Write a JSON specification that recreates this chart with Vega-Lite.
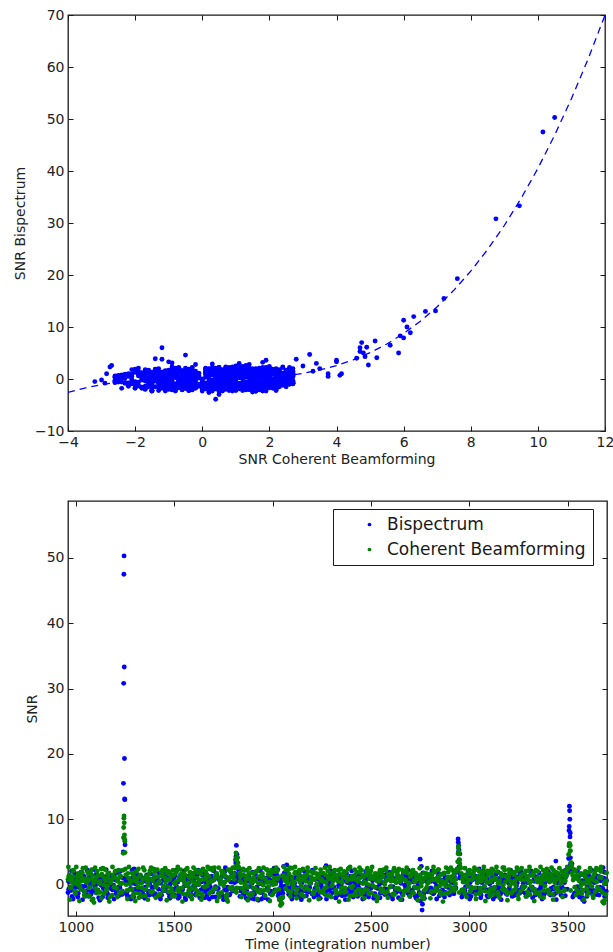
{
"$schema":"https://vega.github.io/schema/vega-lite/v6.json",
"background":"white",
"padding":{"left":12,"top":7,"right":4,"bottom":0},
"config":{
 "font":"DejaVu Sans",
 "view":{"stroke":"#1a1a1a","strokeWidth":1.3},
 "axis":{"domain":false,"grid":false,"tickSize":-5,"tickColor":"#1a1a1a","tickWidth":1,"labelFontSize":14,"titleFontSize":14,"titleFontWeight":"normal","labelColor":"#222","titleColor":"#222","labelFont":"DejaVu Sans","titleFont":"DejaVu Sans","labelPadding":9,"labelFlush":false,"labelOverlap":false},
 "axisX":{"titlePadding":3},
 "axisY":{"titlePadding":7},
 "legend":{"labelFont":"DejaVu Sans"}
},
"datasets":{
"d":[
{"t":960,"c":0.8,"b":-1.2},{"t":968,"c":1.5,"b":0.4},{"t":976,"c":-0.3,"b":-0.9},{"t":984,"c":2.1,"b":1.1},{"t":992,"c":0.2,"b":0.6},{"t":1000,"c":-1.1,"b":-1.5},{"t":1008,"c":1.2,"b":0.2},{"t":1016,"c":0.5,"b":-0.4},{"t":1024,"c":-0.7,"b":1.0},{"t":1032,"c":1.9,"b":-0.7},
{"t":1040,"c":0.9,"b":1.3},{"t":1048,"c":-1.8,"b":-0.2},{"t":1056,"c":0.3,"b":-1.6},{"t":1064,"c":1.6,"b":0.8},{"t":1072,"c":-0.4,"b":0.1},{"t":1080,"c":2.3,"b":-1.1},{"t":1088,"c":-2.2,"b":0.5},{"t":1092,"c":-2.75,"b":2.3},{"t":1096,"c":0.7,"b":-0.3},{"t":1104,"c":1.1,"b":1.6},
{"t":1112,"c":-0.9,"b":-0.8},{"t":1120,"c":0.1,"b":0.9},{"t":1128,"c":2.4,"b":-0.1},{"t":1136,"c":1.3,"b":-1.9},{"t":1144,"c":-1.4,"b":0.3},{"t":1152,"c":0.6,"b":1.2},{"t":1160,"c":-0.2,"b":-1.3},{"t":1168,"c":1.8,"b":0.6},{"t":1176,"c":0.4,"b":-0.6},{"t":1184,"c":-1.6,"b":1.4},
{"t":1192,"c":1.0,"b":-0.1},{"t":1200,"c":2.0,"b":0.7},{"t":1208,"c":-0.6,"b":-1.0},{"t":1216,"c":0.9,"b":1.8},{"t":1224,"c":1.4,"b":-0.5},{"t":1232,"c":-1.0,"b":0.2},{"t":1240,"c":2.2,"b":1.0},
{"t":1241,"c":4.8,"b":5.0},{"t":1242,"c":7.2,"b":15.5},{"t":1243,"c":8.75,"b":30.8},{"t":1244,"c":10.15,"b":47.5},{"t":1245,"c":10.5,"b":50.3},{"t":1246,"c":9.45,"b":33.3},{"t":1247,"c":7.6,"b":19.3},{"t":1248,"c":6.95,"b":13.1},{"t":1249,"c":6.65,"b":13.0},{"t":1250,"c":4.9,"b":6.1},
{"t":1256,"c":0.0,"b":-1.4},{"t":1264,"c":1.7,"b":-2.0},{"t":1272,"c":-0.8,"b":0.4},{"t":1280,"c":0.5,"b":-2.2},{"t":1288,"c":-1.9,"b":1.1},{"t":1296,"c":1.2,"b":2.4},{"t":1304,"c":-1.3,"b":-0.7},{"t":1312,"c":0.3,"b":0.9},{"t":1320,"c":-2.0,"b":-1.2},{"t":1328,"c":1.5,"b":0.3},
{"t":1336,"c":-0.5,"b":-1.8},{"t":1344,"c":0.8,"b":0.5},{"t":1352,"c":-1.7,"b":-0.4},{"t":1360,"c":1.0,"b":1.5},{"t":1368,"c":-0.1,"b":-1.1},{"t":1376,"c":2.1,"b":0.0},{"t":1384,"c":-1.2,"b":0.8},{"t":1392,"c":0.6,"b":-1.5},{"t":1400,"c":1.9,"b":1.2},{"t":1408,"c":-0.4,"b":-0.2},
{"t":1416,"c":0.2,"b":0.7},{"t":1424,"c":-1.5,"b":-1.7},{"t":1432,"c":1.3,"b":0.4},{"t":1440,"c":2.2,"b":-0.9},{"t":1448,"c":-0.9,"b":1.9},{"t":1456,"c":0.4,"b":-0.5},{"t":1464,"c":1.7,"b":1.0},{"t":1472,"c":-1.1,"b":-1.3},{"t":1480,"c":0.9,"b":0.1},{"t":1488,"c":-1.8,"b":0.6},
{"t":1496,"c":1.4,"b":-1.0},{"t":1504,"c":0.1,"b":1.4},{"t":1512,"c":2.0,"b":-0.3},{"t":1520,"c":-0.6,"b":-2.1},{"t":1528,"c":0.7,"b":0.8},{"t":1536,"c":1.6,"b":-0.6},{"t":1544,"c":-1.4,"b":1.1},{"t":1552,"c":0.3,"b":-0.2},{"t":1560,"c":2.3,"b":0.9},{"t":1568,"c":-0.2,"b":-1.4},
{"t":1576,"c":1.1,"b":0.3},{"t":1584,"c":-1.6,"b":1.7},{"t":1592,"c":0.5,"b":-0.8},{"t":1600,"c":1.8,"b":0.5},{"t":1608,"c":-0.7,"b":-1.6},{"t":1616,"c":1.0,"b":1.2},{"t":1624,"c":0.0,"b":0.0},{"t":1632,"c":2.1,"b":-1.2},{"t":1640,"c":-1.3,"b":0.6},{"t":1648,"c":0.8,"b":-0.4},
{"t":1656,"c":-0.3,"b":-2.0},{"t":1664,"c":1.5,"b":1.6},{"t":1672,"c":0.4,"b":-0.7},{"t":1680,"c":2.4,"b":0.2},{"t":1688,"c":-1.0,"b":1.3},{"t":1696,"c":0.6,"b":-1.1},{"t":1704,"c":2.6,"b":0.8},{"t":1712,"c":-0.5,"b":-0.5},{"t":1720,"c":1.2,"b":1.0},{"t":1728,"c":-1.9,"b":-1.3},
{"t":1736,"c":0.9,"b":0.4},{"t":1744,"c":1.6,"b":2.0},{"t":1752,"c":-0.2,"b":-1.8},{"t":1760,"c":1.3,"b":2.6},{"t":1768,"c":-1.5,"b":-2.3},{"t":1772,"c":-2.6,"b":-0.4},{"t":1776,"c":0.7,"b":0.7},{"t":1784,"c":2.0,"b":-0.6},{"t":1792,"c":-0.8,"b":1.2},{"t":1800,"c":1.4,"b":-0.9},{"t":1808,"c":2.5,"b":1.7},
{"t":1812,"c":2.8,"b":3.8},{"t":1813,"c":-1.0,"b":3.3},{"t":1814,"c":4.85,"b":4.3},{"t":1815,"c":4.0,"b":3.6},{"t":1816,"c":-1.2,"b":6.0},{"t":1817,"c":4.0,"b":3.3},{"t":1818,"c":3.75,"b":0.5},{"t":1819,"c":-0.5,"b":4.6},{"t":1820,"c":4.15,"b":1.0},{"t":1822,"c":4.1,"b":0.7},{"t":1824,"c":3.3,"b":1.5},
{"t":1832,"c":1.8,"b":2.1},{"t":1840,"c":0.3,"b":-1.0},{"t":1848,"c":2.2,"b":0.5},{"t":1856,"c":-1.1,"b":-1.5},{"t":1864,"c":0.8,"b":0.9},{"t":1872,"c":-0.4,"b":-0.3},{"t":1880,"c":1.7,"b":1.3},{"t":1888,"c":-1.7,"b":-1.9},{"t":1896,"c":0.5,"b":0.2},{"t":1904,"c":1.1,"b":-1.2},
{"t":1912,"c":-0.6,"b":1.6},{"t":1920,"c":2.0,"b":-0.4},{"t":1928,"c":0.2,"b":-2.4},{"t":1936,"c":-1.2,"b":0.8},{"t":1944,"c":1.5,"b":-2.2},{"t":1952,"c":-0.1,"b":0.3},{"t":1960,"c":0.9,"b":-1.7},{"t":1968,"c":2.3,"b":1.0},{"t":1976,"c":-0.9,"b":-0.6},{"t":1984,"c":0.4,"b":1.9},
{"t":1992,"c":1.8,"b":-1.0},{"t":2000,"c":-1.5,"b":0.4},{"t":2008,"c":1.0,"b":2.5},{"t":2016,"c":0.1,"b":-0.9},{"t":2024,"c":2.1,"b":1.4},{"t":2032,"c":-0.7,"b":-1.4},{"t":2040,"c":-3.2,"b":-0.5},{"t":2044,"c":-3.0,"b":-0.2},{"t":2048,"c":-2.9,"b":-0.8},{"t":2056,"c":1.4,"b":2.8},{"t":2064,"c":0.6,"b":-0.2},
{"t":2072,"c":1.1,"b":3.0},{"t":2080,"c":-1.0,"b":0.7},{"t":2088,"c":2.6,"b":-0.5},{"t":2096,"c":0.3,"b":1.1},{"t":2104,"c":-0.5,"b":-1.2},{"t":2112,"c":1.7,"b":0.2},{"t":2120,"c":-1.3,"b":-1.6},{"t":2128,"c":0.8,"b":1.5},{"t":2136,"c":2.2,"b":-0.8},{"t":2144,"c":-0.2,"b":0.5},
{"t":2152,"c":1.2,"b":-1.9},{"t":2160,"c":-1.8,"b":1.0},{"t":2168,"c":0.5,"b":-0.3},{"t":2176,"c":1.6,"b":1.2},{"t":2184,"c":-0.8,"b":-1.1},{"t":2192,"c":0.2,"b":0.6},{"t":2200,"c":2.0,"b":-1.4},{"t":2208,"c":-1.4,"b":1.8},{"t":2216,"c":0.9,"b":-0.6},{"t":2224,"c":-0.3,"b":0.0},
{"t":2232,"c":1.3,"b":-1.7},{"t":2240,"c":-1.1,"b":0.9},{"t":2248,"c":0.6,"b":-0.2},{"t":2256,"c":1.8,"b":1.4},{"t":2264,"c":-0.6,"b":-1.3},{"t":2272,"c":0.3,"b":2.9},{"t":2280,"c":2.1,"b":-0.9},{"t":2288,"c":-1.6,"b":0.4},{"t":2296,"c":1.0,"b":-1.5},{"t":2304,"c":-0.1,"b":1.1},
{"t":2312,"c":1.5,"b":-0.4},{"t":2320,"c":-0.9,"b":-2.0},{"t":2328,"c":0.7,"b":0.8},{"t":2336,"c":2.2,"b":-0.1},{"t":2344,"c":-1.2,"b":1.3},{"t":2352,"c":0.4,"b":-1.0},{"t":2360,"c":1.7,"b":0.5},{"t":2368,"c":-0.5,"b":-1.6},{"t":2376,"c":1.1,"b":1.7},{"t":2384,"c":2.4,"b":-0.7},
{"t":2392,"c":-1.7,"b":0.2},{"t":2400,"c":0.8,"b":-1.2},{"t":2408,"c":-0.2,"b":0.9},{"t":2416,"c":1.4,"b":-0.5},{"t":2424,"c":-1.0,"b":1.5},{"t":2432,"c":0.5,"b":-1.8},{"t":2440,"c":1.9,"b":0.3},{"t":2448,"c":-1.5,"b":-0.8},{"t":2456,"c":0.2,"b":1.2},{"t":2464,"c":1.2,"b":-1.3},
{"t":2472,"c":-0.7,"b":0.6},{"t":2480,"c":2.0,"b":-0.2},{"t":2488,"c":0.0,"b":-1.9},{"t":2496,"c":1.6,"b":1.0},{"t":2504,"c":-1.3,"b":-0.4},{"t":2512,"c":0.9,"b":0.8},{"t":2520,"c":-0.4,"b":-1.4},{"t":2528,"c":1.3,"b":1.6},{"t":2536,"c":-1.9,"b":-0.6},{"t":2544,"c":0.6,"b":0.1},
{"t":2552,"c":1.8,"b":-1.1},{"t":2560,"c":-0.8,"b":1.3},{"t":2568,"c":0.3,"b":-0.7},{"t":2576,"c":2.2,"b":0.6},{"t":2584,"c":-1.1,"b":-1.5},{"t":2592,"c":1.0,"b":1.9},{"t":2600,"c":-0.3,"b":-0.3},{"t":2608,"c":1.5,"b":-1.6},{"t":2616,"c":-1.4,"b":0.9},{"t":2624,"c":0.7,"b":-0.8},
{"t":2632,"c":1.9,"b":1.1},{"t":2640,"c":-0.6,"b":-2.0},{"t":2648,"c":0.4,"b":0.4},{"t":2656,"c":1.2,"b":-1.2},{"t":2664,"c":-1.6,"b":1.6},{"t":2672,"c":0.8,"b":-0.1},{"t":2680,"c":2.1,"b":1.9},{"t":2688,"c":-0.9,"b":-1.3},{"t":2696,"c":0.2,"b":0.7},{"t":2704,"c":1.4,"b":-0.9},
{"t":2712,"c":-1.2,"b":1.2},{"t":2720,"c":0.6,"b":-0.5},{"t":2728,"c":1.7,"b":1.4},{"t":2736,"c":-0.5,"b":-1.7},{"t":2744,"c":0.9,"b":0.2},{"t":2750,"c":-1.4,"b":3.9},{"t":2752,"c":1.5,"b":-2.5},{"t":2756,"c":-0.2,"b":2.8},{"t":2760,"c":0.4,"b":-3.9},{"t":2762,"c":0.5,"b":-3.0},{"t":2768,"c":-2.2,"b":-1.4},
{"t":2776,"c":1.1,"b":0.9},{"t":2784,"c":-0.4,"b":-0.6},{"t":2792,"c":0.3,"b":1.3},{"t":2800,"c":1.6,"b":-1.0},{"t":2808,"c":-1.0,"b":0.5},{"t":2816,"c":0.7,"b":-1.4},{"t":2824,"c":1.9,"b":0.8},{"t":2832,"c":-0.7,"b":-0.2},{"t":2840,"c":0.5,"b":1.1},{"t":2848,"c":1.3,"b":-1.7},
{"t":2856,"c":-1.5,"b":0.3},{"t":2864,"c":0.1,"b":-0.8},{"t":2872,"c":1.8,"b":1.5},{"t":2880,"c":-0.3,"b":-1.2},{"t":2888,"c":1.0,"b":0.6},{"t":2896,"c":2.3,"b":-0.4},{"t":2904,"c":-1.1,"b":1.0},{"t":2912,"c":0.6,"b":-1.3},{"t":2920,"c":1.4,"b":0.2},{"t":2928,"c":-0.6,"b":-0.7},{"t":2936,"c":2.0,"b":1.9},
{"t":2941,"c":3.5,"b":2.0},{"t":2943,"c":4.75,"b":7.0},{"t":2944,"c":5.6,"b":6.5},{"t":2945,"c":5.85,"b":5.0},{"t":2946,"c":4.7,"b":6.0},{"t":2947,"c":4.95,"b":2.7},{"t":2948,"c":4.7,"b":5.3},{"t":2949,"c":-1.2,"b":3.8},{"t":2950,"c":3.75,"b":1.0},{"t":2952,"c":3.2,"b":4.7},
{"t":2960,"c":1.7,"b":1.2},{"t":2968,"c":0.4,"b":-0.9},{"t":2976,"c":-1.3,"b":0.4},{"t":2984,"c":1.1,"b":-1.5},{"t":2992,"c":-0.2,"b":1.0},{"t":3000,"c":1.6,"b":-0.3},{"t":3008,"c":-0.8,"b":-1.8},{"t":3016,"c":0.9,"b":0.7},{"t":3024,"c":2.1,"b":-1.0},{"t":3032,"c":-1.5,"b":1.3},
{"t":3040,"c":0.3,"b":-0.5},{"t":3048,"c":1.3,"b":2.2},{"t":3056,"c":-0.5,"b":-1.4},{"t":3064,"c":0.7,"b":0.3},{"t":3072,"c":1.9,"b":2.1},{"t":3080,"c":-1.0,"b":-0.8},{"t":3088,"c":0.5,"b":1.2},{"t":3096,"c":1.5,"b":-1.9},{"t":3104,"c":-1.8,"b":0.1},{"t":3112,"c":0.8,"b":-0.6},
{"t":3120,"c":2.2,"b":1.0},{"t":3128,"c":-0.4,"b":-1.1},{"t":3136,"c":1.0,"b":1.6},{"t":3144,"c":-1.2,"b":-0.3},{"t":3152,"c":0.2,"b":0.8},{"t":3160,"c":1.7,"b":-1.4},{"t":3168,"c":-0.7,"b":0.5},{"t":3176,"c":2.6,"b":-0.7},{"t":3184,"c":0.4,"b":1.4},{"t":3192,"c":-1.4,"b":-1.5},
{"t":3200,"c":1.2,"b":0.2},{"t":3208,"c":-0.1,"b":-1.0},{"t":3216,"c":1.8,"b":1.1},{"t":3224,"c":-0.9,"b":-1.7},{"t":3232,"c":0.6,"b":0.6},{"t":3240,"c":2.0,"b":-0.2},{"t":3248,"c":-1.6,"b":1.2},{"t":3256,"c":0.9,"b":-1.3},{"t":3264,"c":1.5,"b":2.0},{"t":3272,"c":-0.3,"b":-0.6},
{"t":3280,"c":0.7,"b":0.9},{"t":3288,"c":2.1,"b":-1.8},{"t":3296,"c":-1.1,"b":0.3},{"t":3304,"c":0.3,"b":-1.1},{"t":3312,"c":1.4,"b":1.5},{"t":3320,"c":-0.6,"b":-0.4},{"t":3328,"c":1.9,"b":0.7},{"t":3336,"c":-1.3,"b":-1.6},{"t":3344,"c":0.5,"b":1.0},{"t":3352,"c":1.1,"b":-0.8},
{"t":3360,"c":-1.8,"b":0.4},{"t":3368,"c":0.8,"b":-1.4},{"t":3376,"c":2.2,"b":1.3},{"t":3384,"c":-0.2,"b":-0.1},{"t":3392,"c":1.3,"b":1.8},{"t":3400,"c":-0.9,"b":-1.2},{"t":3408,"c":0.4,"b":0.6},{"t":3416,"c":1.6,"b":-0.6},{"t":3424,"c":-1.5,"b":1.1},{"t":3432,"c":0.9,"b":-1.5},
{"t":3440,"c":1.9,"b":3.6},{"t":3448,"c":-0.5,"b":0.2},{"t":3456,"c":1.2,"b":-1.0},{"t":3464,"c":0.1,"b":1.2},{"t":3472,"c":2.0,"b":-0.4},{"t":3480,"c":-1.0,"b":0.9},{"t":3488,"c":0.6,"b":-1.7},{"t":3496,"c":1.5,"b":1.6},{"t":3500,"c":2.4,"b":2.2},
{"t":3505,"c":4.6,"b":4.0},{"t":3507,"c":5.9,"b":8.3},{"t":3508,"c":6.2,"b":8.9},{"t":3509,"c":6.3,"b":12.0},{"t":3510,"c":6.0,"b":11.3},{"t":3511,"c":6.1,"b":10.0},{"t":3512,"c":5.15,"b":7.3},{"t":3513,"c":6.0,"b":7.9},{"t":3514,"c":5.2,"b":4.1},{"t":3515,"c":-0.9,"b":3.1},{"t":3516,"c":3.4,"b":3.0},{"t":3518,"c":3.0,"b":2.5},
{"t":3522,"c":1.8,"b":3.2},{"t":3528,"c":0.7,"b":2.3},{"t":3536,"c":-0.4,"b":-1.3},{"t":3544,"c":1.3,"b":2.0},{"t":3552,"c":-1.2,"b":-0.6},{"t":3560,"c":0.5,"b":-1.9},{"t":3568,"c":1.7,"b":0.4},{"t":3576,"c":-0.8,"b":-2.3},{"t":3584,"c":0.2,"b":-2.6},{"t":3592,"c":1.1,"b":1.0},
{"t":3600,"c":-1.6,"b":-0.3},{"t":3608,"c":0.8,"b":1.3},{"t":3616,"c":2.0,"b":-1.2},{"t":3624,"c":-0.3,"b":0.5},{"t":3632,"c":1.4,"b":-0.9},{"t":3640,"c":-1.1,"b":1.4},{"t":3648,"c":0.4,"b":-1.5},{"t":3656,"c":2.3,"b":0.7},{"t":3664,"c":-0.7,"b":-0.4},{"t":3672,"c":1.0,"b":1.1},
{"t":3680,"c":-2.7,"b":2.6},{"t":3684,"c":-2.85,"b":1.0},{"t":3688,"c":-2.4,"b":-1.8},{"t":3696,"c":0.6,"b":-1.0},
{"t":964,"c":1.3,"b":-0.7},{"t":972,"c":-0.5,"b":0.9},{"t":980,"c":0.9,"b":-1.8},{"t":988,"c":2.2,"b":0.3},{"t":996,"c":-1.4,"b":-0.4},{"t":1004,"c":0.6,"b":1.1},{"t":1012,"c":1.7,"b":-1.3},{"t":1020,"c":-0.2,"b":0.5},{"t":1028,"c":1.0,"b":-0.2},{"t":1036,"c":2.5,"b":1.4},
{"t":1044,"c":-1.0,"b":-1.0},{"t":1052,"c":0.4,"b":0.3},{"t":1060,"c":1.9,"b":-0.9},{"t":1068,"c":-1.7,"b":1.2},{"t":1076,"c":0.8,"b":-1.5},{"t":1084,"c":1.4,"b":0.6},{"t":1100,"c":-0.6,"b":-1.2},{"t":1108,"c":2.0,"b":0.1},{"t":1116,"c":0.3,"b":-2.0},{"t":1124,"c":-1.2,"b":0.8},
{"t":1132,"c":1.6,"b":1.3},{"t":1140,"c":0.0,"b":-0.6},{"t":1148,"c":2.3,"b":-1.1},{"t":1156,"c":-0.8,"b":0.4},{"t":1164,"c":1.1,"b":-1.7},{"t":1172,"c":-1.9,"b":1.0},{"t":1180,"c":0.7,"b":0.0},{"t":1188,"c":1.5,"b":-0.8},{"t":1196,"c":-0.3,"b":1.5},{"t":1204,"c":2.1,"b":-1.4},
{"t":1212,"c":0.5,"b":0.7},{"t":1220,"c":-1.3,"b":-0.3},{"t":1228,"c":1.2,"b":1.2},{"t":1236,"c":0.2,"b":-1.0},{"t":1252,"c":2.4,"b":0.4},{"t":1260,"c":-0.9,"b":-1.6},{"t":1268,"c":1.0,"b":0.9},{"t":1276,"c":0.1,"b":-1.9},{"t":1284,"c":1.8,"b":0.2},{"t":1292,"c":-1.5,"b":-0.9},
{"t":1300,"c":0.6,"b":1.4},{"t":1308,"c":2.0,"b":-1.2},{"t":1316,"c":-0.4,"b":0.6},{"t":1324,"c":1.3,"b":-0.5},{"t":1332,"c":-1.8,"b":1.2},{"t":1340,"c":0.9,"b":-1.3},{"t":1348,"c":2.2,"b":0.9},{"t":1356,"c":-0.7,"b":-1.7},{"t":1364,"c":0.4,"b":0.3},{"t":1372,"c":1.6,"b":-1.0},
{"t":1380,"c":-1.1,"b":1.6},{"t":1388,"c":0.8,"b":-0.4},{"t":1396,"c":2.4,"b":0.5},{"t":1404,"c":-0.1,"b":-1.4},{"t":1412,"c":1.2,"b":1.0},{"t":1420,"c":-1.6,"b":-0.7},{"t":1428,"c":0.5,"b":0.2},{"t":1436,"c":1.9,"b":-1.6},{"t":1444,"c":-0.8,"b":0.7},{"t":1452,"c":1.0,"b":-0.9},
{"t":1460,"c":2.1,"b":1.3},{"t":1468,"c":-0.3,"b":-0.2},{"t":1476,"c":0.7,"b":-1.8},{"t":1484,"c":1.5,"b":0.8},{"t":1492,"c":-1.2,"b":-1.1},{"t":1500,"c":0.2,"b":1.0},{"t":1508,"c":1.8,"b":-0.7},{"t":1516,"c":-0.9,"b":0.4},{"t":1524,"c":1.1,"b":-1.4},{"t":1532,"c":2.3,"b":1.5},
{"t":1540,"c":-0.5,"b":-0.9},{"t":1548,"c":0.8,"b":0.6},{"t":1556,"c":1.4,"b":-2.0},{"t":1564,"c":-1.5,"b":0.1},{"t":1572,"c":0.3,"b":1.3},{"t":1580,"c":1.9,"b":-0.5},{"t":1588,"c":-0.6,"b":-1.5},{"t":1596,"c":1.2,"b":0.9},{"t":1604,"c":0.0,"b":-0.3},{"t":1612,"c":2.2,"b":1.1},
{"t":1620,"c":-1.0,"b":-1.2},{"t":1628,"c":0.6,"b":0.5},{"t":1636,"c":1.6,"b":-0.8},{"t":1644,"c":-1.7,"b":1.4},{"t":1652,"c":0.9,"b":-1.1},{"t":1660,"c":2.0,"b":0.3},{"t":1668,"c":-0.2,"b":-1.6},{"t":1676,"c":1.3,"b":1.2},{"t":1684,"c":0.4,"b":-0.4},{"t":1692,"c":2.5,"b":-1.0},
{"t":1700,"c":-0.8,"b":0.7},{"t":1708,"c":1.0,"b":-1.9},{"t":1716,"c":1.7,"b":1.5},{"t":1724,"c":-1.3,"b":-0.6},{"t":1732,"c":0.5,"b":0.9},{"t":1740,"c":2.1,"b":-1.3},{"t":1748,"c":0.2,"b":0.2},{"t":1756,"c":1.4,"b":-0.8},{"t":1764,"c":-1.8,"b":1.1},{"t":1780,"c":1.1,"b":-1.6},
{"t":1788,"c":2.3,"b":0.4},{"t":1796,"c":-0.4,"b":-1.0},{"t":1804,"c":1.6,"b":1.3},{"t":1828,"c":2.6,"b":2.2},{"t":1836,"c":1.2,"b":-0.6},{"t":1844,"c":-0.6,"b":1.0},{"t":1852,"c":1.5,"b":-1.3},{"t":1860,"c":0.1,"b":0.4},{"t":1868,"c":2.2,"b":-0.9},{"t":1876,"c":-1.4,"b":1.2},
{"t":1884,"c":0.9,"b":-0.3},{"t":1892,"c":1.8,"b":-2.1},{"t":1900,"c":-0.5,"b":0.8},{"t":1908,"c":0.6,"b":-1.5},{"t":1916,"c":2.0,"b":0.9},{"t":1924,"c":-1.1,"b":-2.3},{"t":1932,"c":1.2,"b":0.1},{"t":1940,"c":0.3,"b":-1.2},{"t":1948,"c":1.7,"b":1.3},{"t":1956,"c":-0.9,"b":-1.9},
{"t":1964,"c":0.8,"b":0.6},{"t":1972,"c":2.3,"b":-0.5},{"t":1980,"c":-0.3,"b":1.1},{"t":1988,"c":1.4,"b":-1.4},{"t":1996,"c":-1.6,"b":0.2},{"t":2004,"c":0.5,"b":1.6},{"t":2012,"c":2.0,"b":-0.8},{"t":2020,"c":-0.8,"b":0.5},{"t":2028,"c":1.1,"b":-1.7},{"t":2036,"c":-2.1,"b":0.9},
{"t":2052,"c":-1.9,"b":-1.3},{"t":2060,"c":0.9,"b":1.8},{"t":2068,"c":2.2,"b":-0.3},{"t":2076,"c":0.1,"b":1.4},{"t":2084,"c":1.6,"b":-1.1},{"t":2092,"c":-1.2,"b":0.6},{"t":2100,"c":2.5,"b":0.0},{"t":2108,"c":0.4,"b":-1.6},{"t":2116,"c":1.9,"b":1.1},{"t":2124,"c":-0.7,"b":-0.5},
{"t":2132,"c":1.0,"b":1.7},{"t":2140,"c":2.1,"b":-1.3},{"t":2148,"c":-1.5,"b":0.2},{"t":2156,"c":0.7,"b":-0.9},{"t":2164,"c":1.4,"b":1.3},{"t":2172,"c":-0.4,"b":-1.7},{"t":2180,"c":2.0,"b":0.5},{"t":2188,"c":0.2,"b":-0.4},{"t":2196,"c":1.2,"b":1.1},{"t":2204,"c":-1.3,"b":-1.4},
{"t":2212,"c":0.8,"b":0.8},{"t":2220,"c":1.7,"b":-0.6},{"t":2228,"c":-0.6,"b":1.6},{"t":2236,"c":1.0,"b":-1.2},{"t":2244,"c":2.3,"b":0.3},{"t":2252,"c":-1.0,"b":-0.8},{"t":2260,"c":0.4,"b":1.2},{"t":2268,"c":1.5,"b":-1.5},{"t":2276,"c":-1.7,"b":0.7},{"t":2284,"c":0.9,"b":-0.2},
{"t":2292,"c":1.8,"b":1.4},{"t":2300,"c":-0.2,"b":-1.3},{"t":2308,"c":1.1,"b":0.6},{"t":2316,"c":2.2,"b":-1.0},{"t":2324,"c":-1.4,"b":0.9},{"t":2332,"c":0.5,"b":-1.6},{"t":2340,"c":1.6,"b":1.0},{"t":2348,"c":-0.5,"b":-0.1},{"t":2356,"c":1.2,"b":-1.3},{"t":2364,"c":2.0,"b":1.6},
{"t":2372,"c":-1.1,"b":-0.7},{"t":2380,"c":0.6,"b":0.3},{"t":2388,"c":2.5,"b":-1.5},{"t":2396,"c":-0.3,"b":1.3},{"t":2404,"c":1.3,"b":-0.9},{"t":2412,"c":-1.6,"b":0.5},{"t":2420,"c":0.8,"b":1.1},{"t":2428,"c":1.9,"b":-1.3},{"t":2436,"c":-0.7,"b":-0.3},{"t":2444,"c":1.0,"b":1.4},
{"t":2452,"c":2.2,"b":-0.8},{"t":2460,"c":-1.2,"b":0.2},{"t":2468,"c":0.4,"b":-1.6},{"t":2476,"c":1.5,"b":0.9},{"t":2484,"c":-0.9,"b":-1.0},{"t":2492,"c":0.9,"b":1.5},{"t":2500,"c":2.1,"b":-0.5},{"t":2508,"c":-0.1,"b":0.6},{"t":2516,"c":1.3,"b":-1.8},{"t":2524,"c":-1.7,"b":1.0},
{"t":2532,"c":0.5,"b":-0.4},{"t":2540,"c":1.7,"b":1.2},{"t":2548,"c":-0.6,"b":-1.3},{"t":2556,"c":1.1,"b":0.3},{"t":2564,"c":2.3,"b":-1.1},{"t":2572,"c":-1.3,"b":1.5},{"t":2580,"c":0.7,"b":-0.7},{"t":2588,"c":1.6,"b":0.8},{"t":2596,"c":-0.4,"b":-1.6},{"t":2604,"c":1.0,"b":1.1},
{"t":2612,"c":2.0,"b":-0.3},{"t":2620,"c":-1.5,"b":0.6},{"t":2628,"c":0.3,"b":-1.2},{"t":2636,"c":1.4,"b":1.4},{"t":2644,"c":-0.8,"b":-0.9},{"t":2652,"c":0.9,"b":0.2},{"t":2660,"c":2.2,"b":-1.5},{"t":2668,"c":-1.0,"b":1.0},{"t":2676,"c":0.6,"b":-0.5},{"t":2684,"c":1.8,"b":1.2},
{"t":2692,"c":-0.4,"b":-1.4},{"t":2700,"c":1.2,"b":0.7},{"t":2708,"c":2.0,"b":-1.0},{"t":2716,"c":-1.3,"b":0.4},{"t":2724,"c":0.4,"b":-1.7},{"t":2732,"c":1.5,"b":1.1},{"t":2740,"c":-0.6,"b":-0.3},{"t":2746,"c":1.2,"b":-1.2},{"t":2758,"c":-1.8,"b":0.9},{"t":2766,"c":0.9,"b":-1.6},
{"t":2772,"c":-0.9,"b":-2.1},{"t":2780,"c":1.7,"b":0.5},{"t":2788,"c":0.2,"b":-1.1},{"t":2796,"c":1.3,"b":1.2},{"t":2804,"c":-1.2,"b":-0.5},{"t":2812,"c":0.8,"b":0.8},{"t":2820,"c":2.1,"b":-1.3},{"t":2828,"c":-0.5,"b":0.4},{"t":2836,"c":1.0,"b":-0.8},{"t":2844,"c":2.3,"b":1.4},
{"t":2852,"c":-1.0,"b":-1.2},{"t":2860,"c":0.6,"b":0.6},{"t":2868,"c":1.6,"b":-1.5},{"t":2876,"c":-1.4,"b":1.0},{"t":2884,"c":0.4,"b":-0.2},{"t":2892,"c":1.9,"b":1.1},{"t":2900,"c":-0.2,"b":-1.6},{"t":2908,"c":1.2,"b":0.4},{"t":2916,"c":2.2,"b":-0.9},{"t":2924,"c":-0.9,"b":1.3},
{"t":2932,"c":0.8,"b":-0.5},{"t":2956,"c":2.5,"b":1.6},{"t":2964,"c":0.9,"b":-1.3},{"t":2972,"c":-0.7,"b":0.8},{"t":2980,"c":1.5,"b":-0.4},{"t":2988,"c":0.2,"b":1.2},{"t":2996,"c":2.0,"b":-1.7},{"t":3004,"c":-1.1,"b":0.3},{"t":3012,"c":0.7,"b":-1.0},{"t":3020,"c":1.7,"b":1.5},
{"t":3028,"c":-0.5,"b":-0.6},{"t":3036,"c":1.1,"b":0.9},{"t":3044,"c":2.3,"b":-1.2},{"t":3052,"c":-1.4,"b":0.5},{"t":3060,"c":0.5,"b":-1.6},{"t":3068,"c":1.4,"b":1.2},{"t":3076,"c":-0.3,"b":-0.3},{"t":3084,"c":1.0,"b":1.6},{"t":3092,"c":2.1,"b":-0.8},{"t":3100,"c":-1.2,"b":0.7},
{"t":3108,"c":0.4,"b":-1.3},{"t":3116,"c":1.6,"b":0.4},{"t":3124,"c":-0.8,"b":1.3},{"t":3132,"c":0.8,"b":-1.8},{"t":3140,"c":2.0,"b":0.8},{"t":3148,"c":-1.6,"b":-0.9},{"t":3156,"c":0.6,"b":1.0},{"t":3164,"c":1.3,"b":-1.1},{"t":3172,"c":-0.1,"b":0.2},{"t":3180,"c":2.2,"b":1.5},
{"t":3188,"c":-0.9,"b":-1.4},{"t":3196,"c":0.9,"b":0.7},{"t":3204,"c":1.8,"b":-0.5},{"t":3212,"c":-1.3,"b":1.1},{"t":3220,"c":0.3,"b":-1.0},{"t":3228,"c":1.5,"b":1.4},{"t":3236,"c":-0.6,"b":-1.6},{"t":3244,"c":1.0,"b":0.3},{"t":3252,"c":2.3,"b":-0.9},{"t":3260,"c":-1.0,"b":1.6},
{"t":3268,"c":0.7,"b":-0.4},{"t":3276,"c":1.6,"b":0.9},{"t":3284,"c":-0.3,"b":-1.3},{"t":3292,"c":1.2,"b":1.2},{"t":3300,"c":2.1,"b":-1.6},{"t":3308,"c":-1.5,"b":0.4},{"t":3316,"c":0.5,"b":-0.7},{"t":3324,"c":1.7,"b":1.5},{"t":3332,"c":-0.7,"b":-1.1},{"t":3340,"c":0.9,"b":0.6},
{"t":3348,"c":2.0,"b":-1.4},{"t":3356,"c":-1.2,"b":1.0},{"t":3364,"c":0.2,"b":-0.2},{"t":3372,"c":1.4,"b":1.3},{"t":3380,"c":-0.9,"b":-1.5},{"t":3388,"c":0.7,"b":0.5},{"t":3396,"c":1.9,"b":-1.0},{"t":3404,"c":-1.4,"b":1.2},{"t":3412,"c":0.5,"b":-1.6},{"t":3420,"c":1.1,"b":0.8},
{"t":3428,"c":2.2,"b":-0.4},{"t":3436,"c":-0.5,"b":1.5},{"t":3444,"c":0.8,"b":-1.2},{"t":3452,"c":1.7,"b":1.0},{"t":3460,"c":-1.1,"b":-0.6},{"t":3468,"c":0.4,"b":0.9},{"t":3476,"c":1.5,"b":-1.8},{"t":3484,"c":-0.8,"b":0.3},{"t":3492,"c":2.0,"b":1.2},{"t":3532,"c":1.2,"b":-1.5},
{"t":3540,"c":2.1,"b":1.0},{"t":3548,"c":-0.9,"b":-0.3},{"t":3556,"c":0.7,"b":1.3},{"t":3564,"c":1.6,"b":-1.2},{"t":3572,"c":-1.4,"b":0.6},{"t":3580,"c":0.3,"b":-2.3},{"t":3588,"c":1.3,"b":0.5},{"t":3596,"c":-0.6,"b":-1.1},{"t":3604,"c":1.9,"b":1.4},{"t":3612,"c":0.1,"b":-0.8},
{"t":3620,"c":1.0,"b":0.9},{"t":3628,"c":-1.7,"b":-1.4},{"t":3636,"c":0.6,"b":0.3},{"t":3644,"c":2.2,"b":-1.0},{"t":3652,"c":-0.4,"b":1.1},{"t":3660,"c":1.1,"b":-1.6},{"t":3668,"c":2.0,"b":0.6},{"t":3676,"c":-1.2,"b":-0.7},{"t":3692,"c":0.3,"b":0.8},
{"t":962,"c":2.7,"b":0.5},{"t":970,"c":-2.3,"b":-0.8},{"t":978,"c":0.4,"b":2.1},{"t":986,"c":1.2,"b":-2.2},{"t":994,"c":-1.0,"b":1.7},{"t":1002,"c":2.7,"b":-0.4},{"t":1010,"c":0.0,"b":-1.9},{"t":1018,"c":-2.5,"b":0.6},{"t":1026,"c":1.6,"b":1.9},{"t":1034,"c":0.6,"b":-2.3},
{"t":1042,"c":-1.6,"b":-1.0},{"t":1050,"c":2.6,"b":0.8},{"t":1058,"c":0.9,"b":2.2},{"t":1066,"c":-0.5,"b":-1.8},{"t":1074,"c":1.9,"b":0.0},{"t":1082,"c":-2.4,"b":0.7},{"t":1090,"c":0.2,"b":-0.9},{"t":1098,"c":2.6,"b":-0.9},{"t":1106,"c":-1.3,"b":2.0},{"t":1114,"c":1.4,"b":0.5},
{"t":1122,"c":0.5,"b":-2.4},{"t":1130,"c":-2.1,"b":-0.1},{"t":1138,"c":2.5,"b":0.9},{"t":1146,"c":0.8,"b":-1.3},{"t":1154,"c":-0.9,"b":2.3},{"t":1162,"c":1.7,"b":-2.0},{"t":1170,"c":-2.6,"b":0.3},{"t":1178,"c":0.3,"b":1.0},{"t":1186,"c":2.7,"b":-0.8},{"t":1194,"c":-0.4,"b":-2.2},
{"t":1202,"c":1.0,"b":1.9},{"t":1210,"c":-1.9,"b":0.8},{"t":1218,"c":2.2,"b":-1.7},{"t":1226,"c":0.1,"b":2.1},{"t":1234,"c":-1.2,"b":-1.5},{"t":1254,"c":1.5,"b":1.1},{"t":1262,"c":-2.2,"b":-1.0},{"t":1270,"c":2.7,"b":0.7},{"t":1278,"c":0.6,"b":-0.6},{"t":1286,"c":-0.7,"b":2.2},
{"t":1294,"c":1.8,"b":-1.9},{"t":1302,"c":-2.5,"b":0.1},{"t":1310,"c":0.9,"b":1.6},{"t":1318,"c":2.4,"b":-1.2},{"t":1326,"c":-1.4,"b":1.0},{"t":1334,"c":0.2,"b":-1.1},{"t":1342,"c":2.6,"b":1.0},{"t":1350,"c":-0.8,"b":-2.1},{"t":1358,"c":1.3,"b":0.6},{"t":1366,"c":-2.3,"b":0.9},
{"t":1374,"c":0.7,"b":-1.6},{"t":1382,"c":2.6,"b":0.6},{"t":1390,"c":-1.0,"b":-0.5},{"t":1398,"c":1.1,"b":2.3},{"t":1406,"c":-2.0,"b":-1.8},{"t":1414,"c":2.3,"b":0.2},{"t":1422,"c":0.4,"b":1.8},{"t":1430,"c":-1.5,"b":-2.2},{"t":1438,"c":1.6,"b":1.4},{"t":1446,"c":-0.2,"b":-0.4},
{"t":1454,"c":2.5,"b":-0.9},{"t":1462,"c":-2.4,"b":0.8},{"t":1470,"c":0.8,"b":2.0},{"t":1478,"c":1.9,"b":-2.1},{"t":1486,"c":-0.6,"b":1.1},{"t":1494,"c":2.2,"b":-0.7},{"t":1502,"c":-1.8,"b":-1.6},{"t":1510,"c":0.5,"b":2.2},{"t":1518,"c":2.7,"b":0.4},{"t":1526,"c":-1.1,"b":-1.9},
{"t":1534,"c":1.2,"b":1.3},{"t":1542,"c":-2.6,"b":-0.7},{"t":1550,"c":1.7,"b":2.1},{"t":1558,"c":0.0,"b":-2.3},{"t":1566,"c":2.5,"b":1.0},{"t":1574,"c":-0.9,"b":0.5},{"t":1582,"c":1.4,"b":-1.8},{"t":1590,"c":-2.2,"b":1.0},{"t":1598,"c":2.6,"b":-0.2},{"t":1606,"c":0.3,"b":1.5},
{"t":1614,"c":-1.6,"b":-1.2},{"t":1622,"c":1.8,"b":2.2},{"t":1630,"c":0.7,"b":-2.0},{"t":1638,"c":-2.3,"b":0.4},{"t":1646,"c":2.4,"b":-1.0},{"t":1654,"c":-0.4,"b":1.9},{"t":1662,"c":1.0,"b":-0.9},{"t":1670,"c":2.7,"b":0.8},{"t":1678,"c":-1.3,"b":-2.2},{"t":1686,"c":0.6,"b":0.8},
{"t":1694,"c":2.2,"b":-1.9},{"t":1702,"c":-0.7,"b":2.1},{"t":1710,"c":1.5,"b":-0.3},{"t":1718,"c":-2.5,"b":-0.6},{"t":1726,"c":2.6,"b":0.9},{"t":1734,"c":0.1,"b":-1.7},{"t":1742,"c":-1.2,"b":1.2},{"t":1750,"c":1.9,"b":-2.3},{"t":1758,"c":0.4,"b":2.0},{"t":1766,"c":-2.1,"b":-0.9},
{"t":1774,"c":2.3,"b":0.9},{"t":1782,"c":-0.5,"b":-1.5},{"t":1790,"c":1.2,"b":1.8},{"t":1798,"c":2.6,"b":-0.7},{"t":1806,"c":0.8,"b":0.3},{"t":1826,"c":2.7,"b":1.2},{"t":1834,"c":0.5,"b":-1.8},{"t":1842,"c":-1.9,"b":1.3},{"t":1850,"c":2.4,"b":-0.6},{"t":1858,"c":-0.3,"b":2.2},
{"t":1866,"c":1.3,"b":-2.1},{"t":1874,"c":-2.4,"b":0.5},{"t":1882,"c":2.5,"b":0.8},{"t":1890,"c":0.2,"b":-1.4},{"t":1898,"c":-1.4,"b":1.9},{"t":1906,"c":1.8,"b":-2.2},{"t":1914,"c":0.6,"b":0.8},{"t":1922,"c":-2.2,"b":-0.9},{"t":1930,"c":2.5,"b":0.3},{"t":1938,"c":-0.8,"b":2.1},
{"t":1946,"c":1.1,"b":-1.2},{"t":1954,"c":2.6,"b":0.9},{"t":1962,"c":-1.7,"b":-2.0},{"t":1970,"c":0.3,"b":1.0},{"t":1978,"c":1.6,"b":-2.3},{"t":1986,"c":-2.5,"b":0.7},{"t":1994,"c":2.2,"b":2.0},{"t":2002,"c":0.0,"b":-1.3},{"t":2010,"c":-1.1,"b":1.5},{"t":2018,"c":2.6,"b":-0.9},
{"t":2026,"c":0.9,"b":2.3},{"t":2034,"c":-2.3,"b":-0.8},{"t":2042,"c":-2.6,"b":0.4},{"t":2050,"c":1.4,"b":-2.0},{"t":2058,"c":2.7,"b":0.9},{"t":2066,"c":-0.6,"b":-0.6},{"t":2074,"c":0.7,"b":2.1},{"t":2082,"c":2.3,"b":-1.5},{"t":2090,"c":-1.8,"b":1.1},{"t":2098,"c":1.0,"b":-2.2},
{"t":2106,"c":-0.2,"b":0.9},{"t":2114,"c":2.7,"b":-0.4},{"t":2122,"c":-2.1,"b":1.8},{"t":2130,"c":1.5,"b":-1.8},{"t":2138,"c":0.4,"b":1.4},{"t":2146,"c":-1.5,"b":-2.3},{"t":2154,"c":2.4,"b":0.6},{"t":2162,"c":-0.7,"b":2.0},{"t":2170,"c":1.2,"b":-1.0},{"t":2178,"c":2.6,"b":0.9},
{"t":2186,"c":-2.4,"b":-0.6},{"t":2194,"c":0.6,"b":0.2},{"t":2202,"c":1.9,"b":2.2},{"t":2210,"c":-1.0,"b":-1.9},{"t":2218,"c":2.5,"b":0.8},{"t":2226,"c":0.1,"b":-1.4},{"t":2234,"c":-2.2,"b":0.8},{"t":2242,"c":1.7,"b":-2.1},{"t":2250,"c":0.8,"b":1.1},{"t":2258,"c":-1.3,"b":-0.8},
{"t":2266,"c":2.6,"b":1.0},{"t":2274,"c":-0.4,"b":-2.2},{"t":2282,"c":1.3,"b":0.4},{"t":2290,"c":2.7,"b":-0.8},{"t":2298,"c":-1.9,"b":2.1},{"t":2306,"c":0.5,"b":-0.5},{"t":2314,"c":2.1,"b":1.6},{"t":2322,"c":-0.8,"b":-2.0},{"t":2330,"c":1.4,"b":0.9},{"t":2338,"c":-2.6,"b":-0.3},
{"t":2346,"c":2.4,"b":1.1},{"t":2354,"c":0.3,"b":-1.7},{"t":2362,"c":-1.2,"b":1.3},{"t":2370,"c":1.8,"b":-2.3},{"t":2378,"c":0.9,"b":0.6},{"t":2386,"c":-2.3,"b":-0.7},{"t":2394,"c":2.7,"b":1.0},{"t":2402,"c":-0.5,"b":2.1},{"t":2410,"c":1.1,"b":-1.9},{"t":2418,"c":2.3,"b":0.1},
{"t":2426,"c":-1.6,"b":-1.5},{"t":2434,"c":0.6,"b":1.8},{"t":2442,"c":2.6,"b":-0.8},{"t":2450,"c":-0.9,"b":1.2},{"t":2458,"c":1.5,"b":-2.2},{"t":2466,"c":-2.1,"b":0.5},{"t":2474,"c":0.2,"b":2.0},{"t":2482,"c":2.5,"b":-0.8},{"t":2490,"c":-1.4,"b":1.6},{"t":2498,"c":1.0,"b":-0.6},
{"t":2506,"c":2.7,"b":1.0},{"t":2514,"c":-0.3,"b":-2.1},{"t":2522,"c":1.7,"b":1.0},{"t":2530,"c":-2.5,"b":-0.5},{"t":2538,"c":0.8,"b":1.5},{"t":2546,"c":2.2,"b":-2.0},{"t":2554,"c":-1.1,"b":0.3},{"t":2562,"c":1.3,"b":2.2},{"t":2570,"c":0.0,"b":-1.5},{"t":2578,"c":2.6,"b":0.9},
{"t":2586,"c":-2.0,"b":1.9},{"t":2594,"c":1.6,"b":-1.7},{"t":2602,"c":0.5,"b":0.7},{"t":2610,"c":-1.5,"b":-2.2},{"t":2618,"c":2.5,"b":0.9},{"t":2626,"c":-0.6,"b":-0.9},{"t":2634,"c":1.2,"b":2.0},{"t":2642,"c":2.4,"b":-1.0},{"t":2650,"c":-2.3,"b":0.6},{"t":2658,"c":0.9,"b":-2.3},
{"t":2666,"c":1.9,"b":1.6},{"t":2674,"c":-0.9,"b":-1.0},{"t":2682,"c":2.6,"b":0.4},{"t":2690,"c":0.3,"b":2.2},{"t":2698,"c":-1.8,"b":-1.8},{"t":2706,"c":1.5,"b":1.1},{"t":2714,"c":2.2,"b":-1.2},{"t":2722,"c":-0.4,"b":1.7},{"t":2730,"c":1.0,"b":-2.1},{"t":2738,"c":-2.4,"b":0.2},
{"t":2748,"c":2.5,"b":0.8},{"t":2754,"c":0.2,"b":-1.6},{"t":2764,"c":-1.7,"b":1.8},{"t":2770,"c":1.8,"b":-1.0},{"t":2778,"c":-0.7,"b":0.9},{"t":2786,"c":2.5,"b":-1.0},{"t":2794,"c":0.6,"b":1.5},{"t":2802,"c":-2.1,"b":-0.7},{"t":2810,"c":1.4,"b":2.1},{"t":2818,"c":2.7,"b":-0.9},
{"t":2826,"c":-1.0,"b":0.4},{"t":2834,"c":0.8,"b":-2.2},{"t":2842,"c":2.3,"b":1.8},{"t":2850,"c":-0.2,"b":-1.1},{"t":2858,"c":1.6,"b":0.6},{"t":2866,"c":-2.6,"b":0.6},{"t":2874,"c":0.4,"b":-1.9},{"t":2882,"c":2.6,"b":1.0},{"t":2890,"c":-1.3,"b":-0.4},{"t":2898,"c":1.1,"b":2.3},
{"t":2906,"c":2.6,"b":-1.0},{"t":2914,"c":-0.5,"b":0.8},{"t":2922,"c":1.8,"b":-1.4},{"t":2930,"c":0.1,"b":1.9},{"t":2938,"c":2.4,"b":2.3},{"t":2954,"c":2.7,"b":1.5},{"t":2962,"c":-0.8,"b":-1.9},{"t":2970,"c":1.3,"b":1.2},{"t":2978,"c":2.5,"b":-0.9},{"t":2986,"c":-1.9,"b":0.6},
{"t":2994,"c":0.7,"b":2.0},{"t":3002,"c":2.2,"b":-2.2},{"t":3010,"c":-0.4,"b":1.1},{"t":3018,"c":1.5,"b":-1.1},{"t":3026,"c":2.6,"b":0.9},{"t":3034,"c":-2.2,"b":-0.8},{"t":3042,"c":0.9,"b":0.3},{"t":3050,"c":2.0,"b":2.4},{"t":3058,"c":-1.0,"b":-2.0},{"t":3066,"c":1.2,"b":1.5},
{"t":3074,"c":2.7,"b":-0.5},{"t":3082,"c":-2.5,"b":0.5},{"t":3090,"c":0.3,"b":-1.7},{"t":3098,"c":1.8,"b":2.0},{"t":3106,"c":-0.7,"b":-0.9},{"t":3114,"c":2.4,"b":1.0},{"t":3122,"c":-1.5,"b":-2.2},{"t":3130,"c":1.0,"b":0.8},{"t":3138,"c":2.7,"b":-0.9},{"t":3146,"c":0.2,"b":1.9},
{"t":3154,"c":-2.0,"b":-0.5},{"t":3162,"c":1.6,"b":-2.3},{"t":3170,"c":2.6,"b":1.1},{"t":3178,"c":-0.9,"b":0.6},{"t":3186,"c":1.3,"b":-1.3},{"t":3194,"c":-2.4,"b":0.7},{"t":3202,"c":2.3,"b":-0.8},{"t":3210,"c":0.5,"b":2.2},{"t":3218,"c":-1.2,"b":-1.8},{"t":3226,"c":1.9,"b":0.9},
{"t":3234,"c":0.0,"b":-1.4},{"t":3242,"c":2.6,"b":0.8},{"t":3250,"c":-2.2,"b":-0.9},{"t":3258,"c":1.1,"b":1.9},{"t":3266,"c":2.5,"b":-1.1},{"t":3274,"c":-0.6,"b":0.2},{"t":3282,"c":1.7,"b":1.6},{"t":3290,"c":-1.8,"b":-1.6},{"t":3298,"c":0.8,"b":0.7},{"t":3306,"c":2.7,"b":-0.7},
{"t":3314,"c":-0.3,"b":2.1},{"t":3322,"c":1.4,"b":-2.0},{"t":3330,"c":-2.5,"b":0.5},{"t":3338,"c":2.2,"b":1.2},{"t":3346,"c":0.4,"b":-1.3},{"t":3354,"c":-1.4,"b":1.8},{"t":3362,"c":2.7,"b":-0.6},{"t":3370,"c":0.6,"b":-2.2},{"t":3378,"c":-2.0,"b":1.3},{"t":3386,"c":1.8,"b":0.4},
{"t":3394,"c":2.4,"b":-1.1},{"t":3402,"c":-0.8,"b":2.0},{"t":3410,"c":1.0,"b":-0.9},{"t":3418,"c":2.6,"b":0.8},{"t":3426,"c":-2.3,"b":-0.7},{"t":3434,"c":0.3,"b":1.1},{"t":3442,"c":1.6,"b":-2.3},{"t":3450,"c":-1.1,"b":0.5},{"t":3458,"c":2.5,"b":1.0},{"t":3466,"c":0.7,"b":-1.6},
{"t":3474,"c":-1.9,"b":1.4},{"t":3482,"c":2.1,"b":-0.7},{"t":3490,"c":1.2,"b":2.2},{"t":3498,"c":2.7,"b":-0.7},{"t":3502,"c":2.6,"b":1.9},{"t":3520,"c":2.7,"b":2.0},{"t":3526,"c":1.4,"b":-1.9},{"t":3534,"c":2.3,"b":1.1},{"t":3542,"c":-1.6,"b":-1.2},{"t":3550,"c":0.9,"b":2.1},
{"t":3558,"c":2.6,"b":-0.4},{"t":3566,"c":-0.2,"b":1.5},{"t":3574,"c":1.5,"b":-2.0},{"t":3582,"c":-2.3,"b":0.2},{"t":3590,"c":2.0,"b":1.7},{"t":3598,"c":0.4,"b":-1.8},{"t":3606,"c":-1.2,"b":1.0},{"t":3614,"c":2.5,"b":-0.8},{"t":3622,"c":0.8,"b":2.2},{"t":3630,"c":-2.0,"b":-1.7},
{"t":3638,"c":1.7,"b":0.7},{"t":3646,"c":2.5,"b":-1.0},{"t":3654,"c":-0.7,"b":1.3},{"t":3662,"c":1.2,"b":-0.8},{"t":3670,"c":2.7,"b":0.8},{"t":3678,"c":-2.6,"b":-0.6},{"t":3686,"c":0.1,"b":1.9},{"t":3694,"c":-1.5,"b":-1.4},{"t":3698,"c":1.8,"b":0.6}
],
"fit":[
{"x":-4,"y":-2.59},{"x":-3.5,"y":-1.74},{"x":-3,"y":-1.09},{"x":-2.5,"y":-0.63},{"x":-2,"y":-0.32},{"x":-1.5,"y":-0.14},{"x":-1,"y":-0.04},{"x":-0.5,"y":-0.005},{"x":0,"y":0},{"x":0.5,"y":0.005},{"x":1,"y":0.04},{"x":1.5,"y":0.14},{"x":2,"y":0.32},{"x":2.5,"y":0.63},{"x":3,"y":1.09},{"x":3.5,"y":1.74},{"x":4,"y":2.59},{"x":4.5,"y":3.69},{"x":5,"y":5.06},{"x":5.5,"y":6.74},{"x":6,"y":8.75},{"x":6.5,"y":11.12},{"x":7,"y":13.89},{"x":7.5,"y":17.09},{"x":8,"y":20.74},{"x":8.5,"y":24.87},{"x":9,"y":29.52},{"x":9.5,"y":34.72},{"x":10,"y":40.5},{"x":10.5,"y":46.89},{"x":11,"y":53.91},{"x":11.5,"y":61.59},{"x":12,"y":69.98}
]
},
"bounds":"flush",
"spacing":70,
"vconcat":[
{
 "width":537,"height":416,
 "layer":[
  {"data":{"name":"d"},
   "mark":{"type":"point","filled":true,"size":24,"color":"#0000ff","opacity":1},
   "encoding":{
    "x":{"field":"c","type":"quantitative","scale":{"domain":[-4,12],"nice":false,"zero":false},"axis":{"title":"SNR Coherent Beamforming","values":[-4,-2,0,2,4,6,8,10,12]}},
    "y":{"field":"b","type":"quantitative","scale":{"domain":[-10,70],"nice":false,"zero":false},"axis":{"title":"SNR Bispectrum","values":[-10,0,10,20,30,40,50,60,70]}}
   }},
  {"data":{"name":"fit"},
   "mark":{"type":"line","strokeDash":[7,5],"color":"#0000ff","strokeWidth":1.3,"clip":true},
   "encoding":{
    "x":{"field":"x","type":"quantitative","scale":{"domain":[-4,12],"nice":false,"zero":false},"axis":{"orient":"top","labels":false,"title":null,"values":[-4,-2,0,2,4,6,8,10,12]}},
    "y":{"field":"y","type":"quantitative","scale":{"domain":[-10,70],"nice":false,"zero":false},"axis":{"orient":"right","labels":false,"title":null,"values":[-10,0,10,20,30,40,50,60,70]}}
   }}
 ],
 "resolve":{"axis":{"x":"independent","y":"independent"}}
},
{
 "width":539,"height":415,
 "layer":[
  {"data":{"name":"d"},
   "mark":{"type":"point","filled":true,"size":24,"opacity":1},
   "encoding":{
    "x":{"field":"t","type":"quantitative","scale":{"domain":[960,3700],"nice":false,"zero":false},"axis":{"title":"Time (integration number)","values":[1000,1500,2000,2500,3000,3500],"format":"d"}},
    "y":{"field":"b","type":"quantitative","scale":{"domain":[-4.8,58.7],"nice":false,"zero":false},"axis":{"title":"SNR","values":[0,10,20,30,40,50]}},
    "color":{"datum":"Bispectrum","type":"nominal","scale":{"domain":["Bispectrum","Coherent Beamforming"],"range":["#0000ff","#008000"]},
      "legend":{"orient":"none","legendX":265,"legendY":494,"title":null,"strokeColor":"#1a1a1a","fillColor":"white","padding":7,"labelFontSize":17,"labelColor":"#1a1a1a","labelLimit":0,"symbolType":"circle","symbolSize":14,"rowPadding":7,"symbolOffset":21,"labelOffset":9}}
   }},
  {"data":{"name":"d"},
   "mark":{"type":"point","filled":true,"size":24,"opacity":1},
   "encoding":{
    "x":{"field":"t","type":"quantitative","scale":{"domain":[960,3700],"nice":false,"zero":false},"axis":{"orient":"top","labels":false,"title":null,"values":[1000,1500,2000,2500,3000,3500]}},
    "y":{"field":"c","type":"quantitative","scale":{"domain":[-4.8,58.7],"nice":false,"zero":false},"axis":{"orient":"right","labels":false,"title":null,"values":[0,10,20,30,40,50]}},
    "color":{"datum":"Coherent Beamforming","type":"nominal"}
   }}
 ],
 "resolve":{"axis":{"x":"independent","y":"independent"}}
}
]
}
